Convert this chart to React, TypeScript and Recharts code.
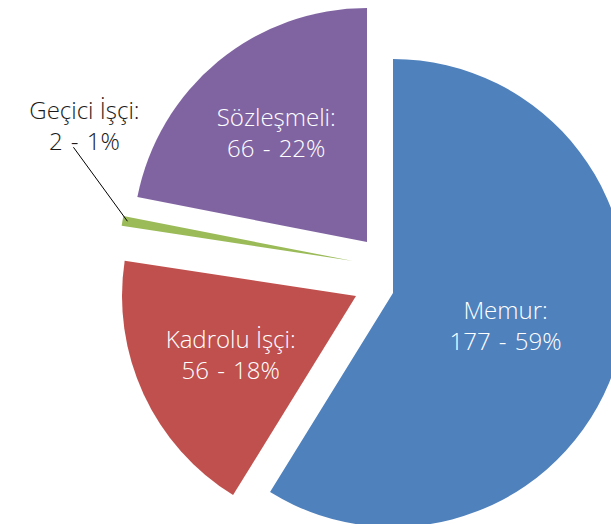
import React from 'react';
import { PieChart, Pie, Cell, Sector } from 'recharts';

const categories = ['Memur', 'Kadrolu İşçi', 'Geçici İşçi', 'Sözleşmeli'];
const counts = [177, 56, 2, 66];
const shares = [59, 18, 1, 22];

const colours = ['#4F81BD', '#C0504D', '#9BBB59', '#8064A2'];

// exploded slices: shift of each slice (px) and where its label sits (fraction of radius, 0 = outside)
const pull = [
  { dx: 18, dy: 23, labelAt: 0.5 },
  { dx: -19, dy: 26, labelAt: 0.59 },
  { dx: -22, dy: -9, labelAt: 0 },
  { dx: -8, dy: -28, labelAt: 0.61 },
];

const data = categories.map((name, i) => ({ name, value: counts[i] }));

const RAD = Math.PI / 180;
const font = "'Open Sans', sans-serif";

function sliceIndex(props: any) {
  if (typeof props.index === 'number') return props.index;
  return categories.indexOf(props.name ?? props.payload?.name);
}

function ExplodedSlice(props: any) {
  const i = sliceIndex(props);
  const p = pull[i] || { dx: 0, dy: 0 };
  return (
    <Sector
      cx={props.cx + p.dx}
      cy={props.cy + p.dy}
      innerRadius={0}
      outerRadius={props.outerRadius}
      startAngle={props.startAngle}
      endAngle={props.endAngle}
      fill={props.fill}
      stroke="none"
    />
  );
}

function LabelLines({ x, y, a, b, colour }: { x: number; y: number; a: string; b: string; colour: string }) {
  return (
    <>
      <text x={x} y={y - 6} textAnchor="middle" fill={colour} fontSize={24} fontWeight={300} fontFamily={font}>
        {a}
      </text>
      <text x={x} y={y + 25} textAnchor="middle" fill={colour} fontSize={24} fontWeight={300} fontFamily={font} wordSpacing={2}>
        {b}
      </text>
    </>
  );
}

function SliceLabel(props: any) {
  const { cx, cy, midAngle, outerRadius } = props;
  const i = sliceIndex(props);
  const p = pull[i];
  const ox = cx + p.dx;
  const oy = cy + p.dy;
  const cos = Math.cos(-midAngle * RAD);
  const sin = Math.sin(-midAngle * RAD);
  const line1 = `${categories[i]}:`;
  const line2 = `${counts[i]} - ${shares[i]}%`;

  if (p.labelAt === 0) {
    // small slice: label outside with a leader line
    const ex = ox + (outerRadius - 2) * cos;
    const ey = oy + (outerRadius - 2) * sin;
    const lx = ex - 40;
    const ly = ey - 96;
    return (
      <g>
        <line x1={lx - 11} y1={ly + 22} x2={ex + 3} y2={ey} stroke="#000" strokeWidth={1} />
        <LabelLines x={lx} y={ly} a={line1} b={line2} colour="#1a1a1a" />
      </g>
    );
  }

  const lx = ox + outerRadius * p.labelAt * cos;
  const ly = oy + outerRadius * p.labelAt * sin;
  return (
    <g>
      <LabelLines x={lx} y={ly} a={line1} b={line2} colour="#fff" />
    </g>
  );
}

export default function App() {
  return (
    <div style={{ position: 'absolute', left: 0, top: 0, width: 611, height: 524, background: '#fff', overflow: 'hidden' }}>
      <PieChart width={611} height={524} margin={{ top: 0, right: 0, bottom: 0, left: 0 }}>
        <Pie
          data={data}
          dataKey="value"
          nameKey="name"
          cx={375}
          cy={270}
          outerRadius={234}
          startAngle={90}
          endAngle={-270}
          stroke="none"
          shape={ExplodedSlice}
          label={SliceLabel}
          labelLine={false}
          isAnimationActive={false}
        >
          {data.map((entry, index) => (
            <Cell key={`cell-${index}`} fill={colours[index]} />
          ))}
        </Pie>
      </PieChart>
    </div>
  );
}
